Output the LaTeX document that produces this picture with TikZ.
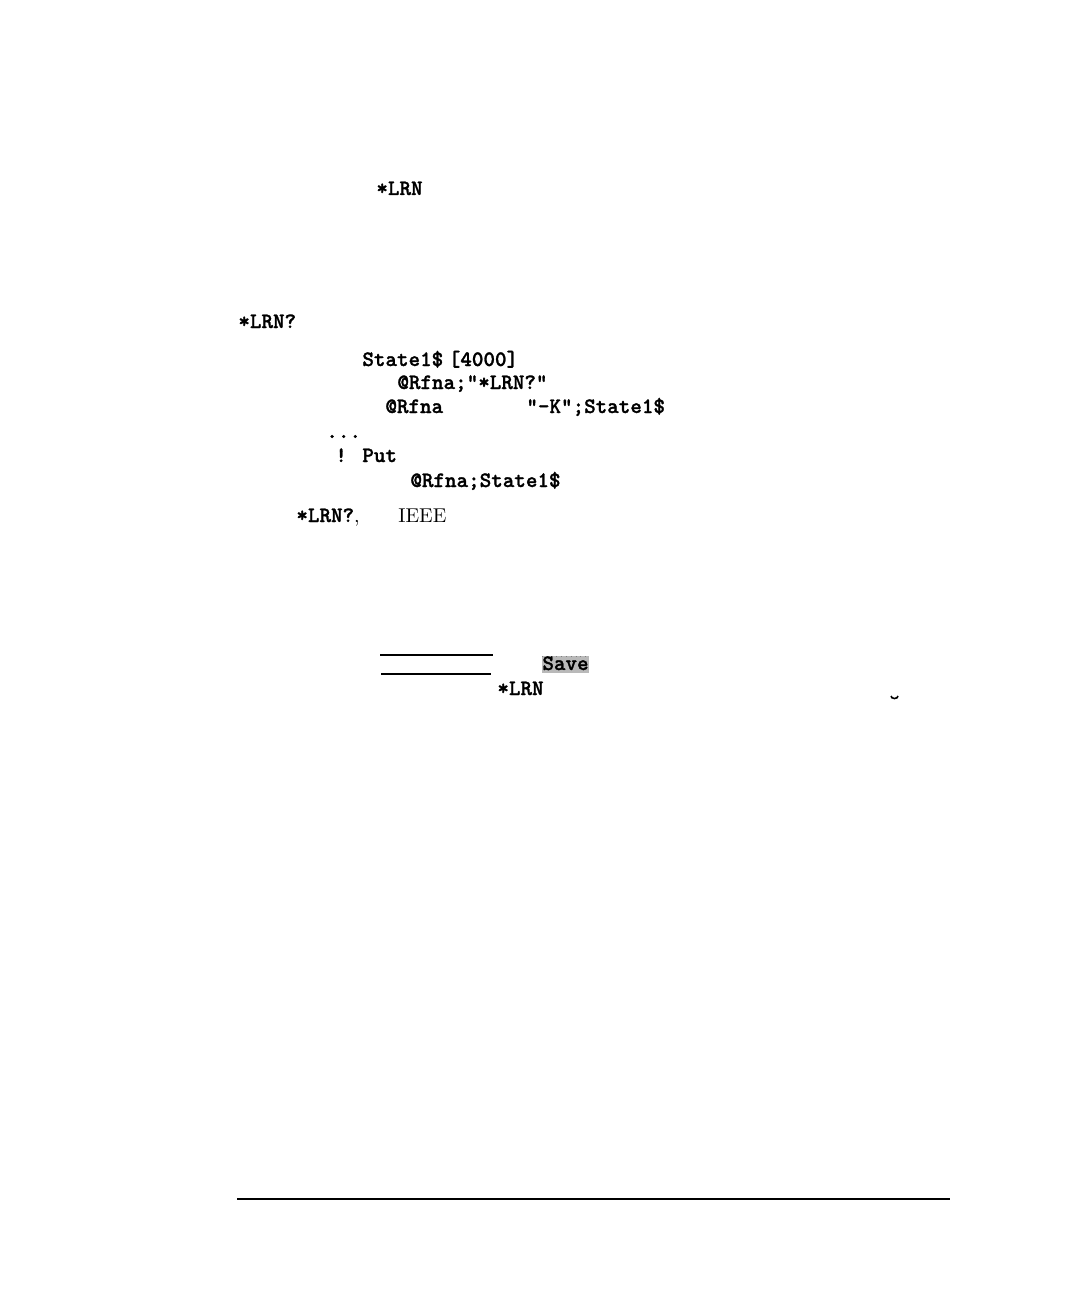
\documentclass[tikz,border=0pt]{standalone}
\usepackage{fontspec}
\usepackage{tikz}
\newfontfamily\codefont[FakeBold=1.2]{lmmonolt10-bold.otf}

\tikzset{
  code/.style={anchor=base west, inner sep=0pt, font=\fontsize{11}{13}\selectfont\codefont},
  roman/.style={anchor=base west, inner sep=0pt, font=\fontsize{10}{12}\selectfont\rmfamily}
}

\begin{document}
\begin{tikzpicture}[x=0.5pt, y=-0.5pt]
% Page
\useasboundingbox [fill=white] (0,0) rectangle (1088,1300);
% Command names
\node [code] (lrn) at (376,195) {*LRN};
\node [code] (lrnq) at (238,328) {*LRN?};
% Program lines
\node [code] (dim) at (362,366) {State1\$\kern-3pt{} [4000]};
\node [code] (outq) at (397,389) {@Rfna;"*LRN?"};
\node [code] (enter) at (385,413) {@Rfna};
\node [code] (fmt) at (526,413) {"-K";State1\$};
\node [code] (dots) at (326,438) {...};
\node [code] (put) at (335,462) {! Put};
\node [code] (outs) at (410,487) {@Rfna;State1\$};
% Remark
\node [code] (lrnq2) at (296,522) {*LRN?{\rmfamily\fontsize{10}{12}\selectfont,}};
\node [roman] (ieee) at (398,522) {IEEE};
% Key
\draw [line width=1pt] (380,655) -- (493,655);
\draw [line width=1pt] (381,674) -- (491,674);
\fill [gray!55] (542,656) rectangle (589,673);
\draw [dotted, gray] (542,656) -- (589,656);
\node [code] (save) at (542,670) {Save};
\node [code] (lrn2) at (497,695) {*LRN};
\draw [line width=0.8pt] (891,696) arc (180:0:3.5 and 2.5);
% Foot rule
\draw [line width=1.4pt] (237,1199) -- (950,1199);
\end{tikzpicture}
\end{document}
